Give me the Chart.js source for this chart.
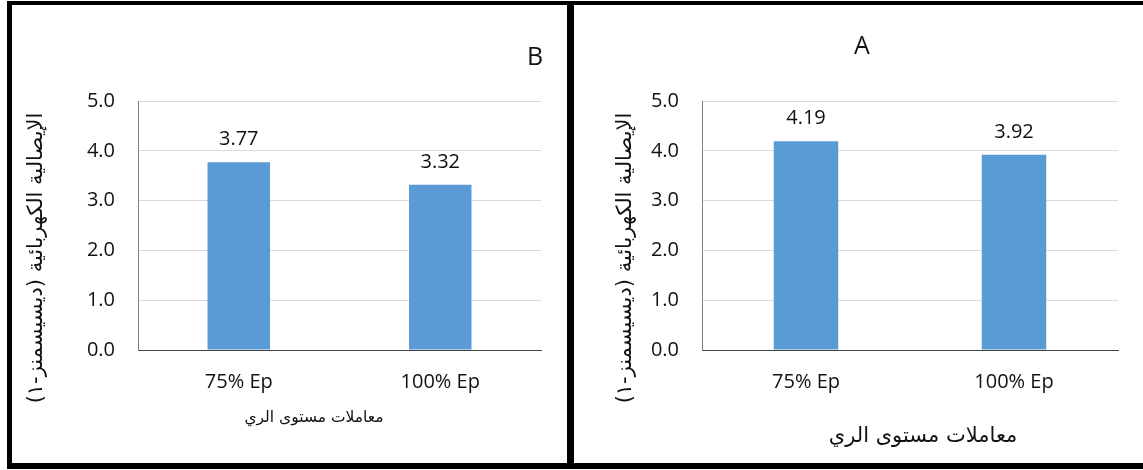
<!DOCTYPE html>
<html>
<head>
<meta charset="utf-8">
<script src="https://cdn.jsdelivr.net/npm/chart.js@4.4.1/dist/chart.umd.min.js"></script>
<style>
  html, body { margin: 0; padding: 0; background: #fff; }
  #stage { position: relative; width: 1143px; height: 470px; overflow: hidden; background: #fff; }
  .bar { position: absolute; background: #000; }
  canvas { position: absolute; }
</style>
</head>
<body>
<div id="stage">
  <canvas id="panelB" width="555" height="458" style="left:12px; top:5px;"></canvas>
  <canvas id="panelA" width="569" height="458" style="left:574px; top:5px;"></canvas>
  <div class="bar" style="left:7px; top:1px; width:1136px; height:4px;"></div>
  <div class="bar" style="left:7px; top:1px; width:5px; height:468px;"></div>
  <div class="bar" style="left:567px; top:1px; width:7px; height:468px;"></div>
  <div class="bar" style="left:7px; top:463px; width:1136px; height:6px;"></div>
</div>
<script>
// Irrigation treatments and electrical conductivity for the two panels
const categories = ['75% Ep', '100% Ep'];
const valuesB = [3.77, 3.32];
const valuesA = [4.19, 3.92];
const yTickValues = [0, 1, 2, 3, 4, 5];
const yTitle = 'الإيصالية الكهربائية (ديسيسمنز-١)';
const xTitle = 'معاملات مستوى الري';
const panelLetters = ['B', 'A'];

const LATIN = "'Open Sans', 'Liberation Sans', sans-serif";
const ARABIC = "'DejaVu Sans', sans-serif";
const BAR_COLOR = '#5B9BD5';
const TEXT_COLOR = '#111';

// Value labels above each bar
const valueLabels = {
  id: 'valueLabels',
  afterDatasetsDraw(chart) {
    const ctx = chart.ctx;
    const meta = chart.getDatasetMeta(0);
    const data = chart.data.datasets[0].data;
    ctx.save();
    ctx.font = '20px ' + LATIN;
    ctx.fillStyle = TEXT_COLOR;
    ctx.textAlign = 'center';
    ctx.textBaseline = 'alphabetic';
    meta.data.forEach((bar, i) => {
      ctx.fillText(data[i].toFixed(2), bar.x, bar.y - 17);
    });
    ctx.restore();
  }
};

// Axis captions (Arabic, right-to-left) and panel letter
const captions = {
  id: 'captions',
  afterDraw(chart, args, opts) {
    const ctx = chart.ctx;
    ctx.save();
    ctx.fillStyle = TEXT_COLOR;
    ctx.textAlign = 'center';
    ctx.textBaseline = 'middle';
    ctx.direction = 'rtl';
    // y-axis caption, rotated
    ctx.font = opts.yFont + 'px ' + ARABIC;
    ctx.save();
    ctx.translate(opts.yTitle.x, opts.yTitle.y);
    ctx.rotate(-Math.PI / 2);
    ctx.fillText(yTitle, 0, 0);
    ctx.restore();
    // x-axis caption
    ctx.font = opts.xFont + 'px ' + ARABIC;
    ctx.fillText(xTitle, opts.xTitle.x, opts.xTitle.y);
    // panel letter
    ctx.direction = 'ltr';
    ctx.font = '25px ' + LATIN;
    ctx.fillText(opts.letter, opts.letterPos.x, opts.letterPos.y);
    ctx.restore();
  }
};

function buildChart(id, values, cfg) {
  return new Chart(document.getElementById(id), {
    type: 'bar',
    data: {
      labels: categories,
      datasets: [{
        data: values,
        backgroundColor: BAR_COLOR,
        borderWidth: 0,
        categoryPercentage: 1,
        barPercentage: 0.31
      }]
    },
    options: {
      responsive: false,
      animation: false,
      events: [],
      layout: { padding: { left: cfg.padLeft, right: cfg.padRight, top: 96, bottom: 0 } },
      plugins: {
        legend: { display: false },
        tooltip: { enabled: false },
        captions: cfg.captions
      },
      scales: {
        x: {
          grid: { display: false, drawTicks: false },
          border: { display: true, color: '#404040', width: 1 },
          ticks: { padding: 20, color: TEXT_COLOR, font: { family: LATIN, size: 20 } },
          afterFit(scale) { scale.height = 113; }
        },
        y: {
          min: 0,
          max: 5,
          afterBuildTicks(scale) { scale.ticks = yTickValues.map(v => ({ value: v })); },
          ticks: {
            padding: 23,
            color: TEXT_COLOR,
            font: { family: LATIN, size: 20 },
            callback: v => Number(v).toFixed(1)
          },
          grid: { color: '#d9d9d9', lineWidth: 1, drawTicks: false },
          border: { display: true, color: '#7f7f7f', width: 1 },
          afterFit(scale) { scale.width = cfg.yWidth; }
        }
      }
    },
    plugins: [valueLabels, captions]
  });
}

buildChart('panelB', valuesB, {
  padLeft: 12, padRight: 26, yWidth: 114,
  captions: {
    yFont: 21, xFont: 15.5,
    yTitle: { x: 25, y: 253 },
    xTitle: { x: 302, y: 413 },
    letter: panelLetters[0],
    letterPos: { x: 523, y: 53 }
  }
});

buildChart('panelA', valuesA, {
  padLeft: 12, padRight: 25, yWidth: 116,
  captions: {
    yFont: 21, xFont: 21,
    yTitle: { x: 52, y: 253 },
    xTitle: { x: 349, y: 432 },
    letter: panelLetters[1],
    letterPos: { x: 288, y: 42 }
  }
});
</script>
</body>
</html>
